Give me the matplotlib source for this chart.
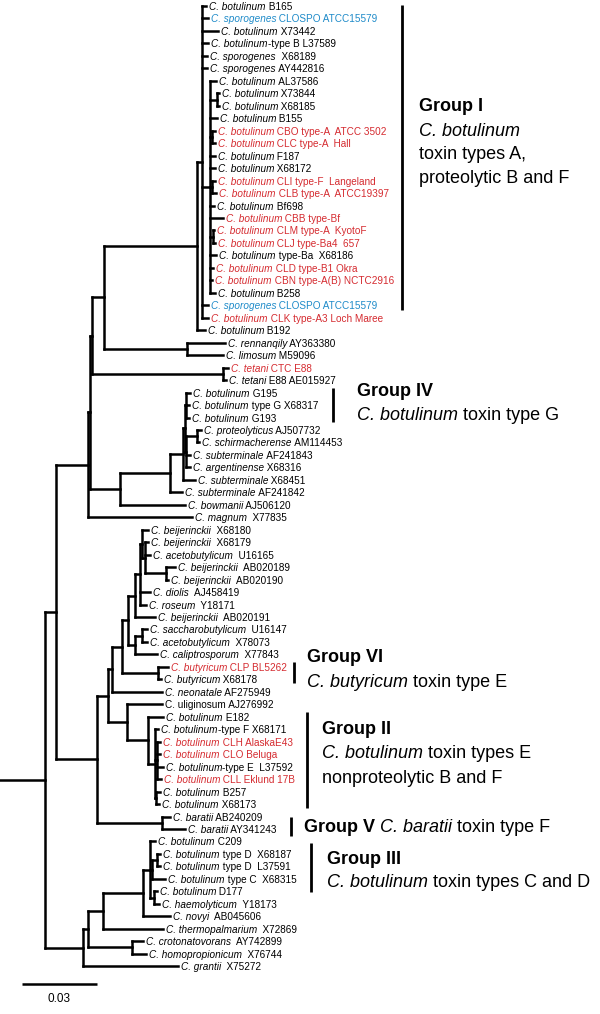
import re
import matplotlib
matplotlib.use("Agg")
import matplotlib.pyplot as plt
from matplotlib.collections import LineCollection

plt.rcParams['font.family'] = ['Liberation Sans', 'DejaVu Sans']

# --- picture geometry ---
W, H = 600, 1014
UNIT_PER_PX = 0.03 / 75          # scale bar 0.03 is 75 px long
ROW_TOP, ROW_STEP = 6.0, 12.47    # y of first leaf row, row spacing (px)
RED, BLUE = '#d52b30', '#1f8bc9'

# --- leaves (top to bottom) ---
SPECIES = [
    "C. botulinum", "C. sporogenes", "C. botulinum", "C. botulinum", "C. sporogenes",
    "C. sporogenes", "C. botulinum", "C. botulinum", "C. botulinum", "C. botulinum",
    "C. botulinum", "C. botulinum", "C. botulinum", "C. botulinum", "C. botulinum",
    "C. botulinum", "C. botulinum", "C. botulinum", "C. botulinum", "C. botulinum",
    "C. botulinum", "C. botulinum", "C. botulinum", "C. botulinum", "C. sporogenes",
    "C. botulinum", "C. botulinum", "C. rennanqily", "C. limosum", "C. tetani",
    "C. tetani", "C. botulinum", "C. botulinum", "C. botulinum", "C. proteolyticus",
    "C. schirmacherense", "C. subterminale", "C. argentinense", "C. subterminale", "C. subterminale",
    "C. bowmanii", "C. magnum", "C. beijerinckii", "C. beijerinckii", "C. acetobutylicum",
    "C. beijerinckii", "C. beijerinckii", "C. diolis", "C. roseum", "C. beijerinckii",
    "C. saccharobutylicum", "C. acetobutylicum", "C. caliptrosporum", "C. butyricum", "C. butyricum",
    "C. neonatale", "C. uliginosum", "C. botulinum", "C. botulinum", "C. botulinum",
    "C. botulinum", "C. botulinum", "C. botulinum", "C. botulinum", "C. botulinum",
    "C. baratii", "C. baratii", "C. botulinum", "C. botulinum", "C. botulinum",
    "C. botulinum", "C. botulinum", "C. haemolyticum", "C. novyi", "C. thermopalmarium",
    "C. crotonatovorans", "C. homopropionicum", "C. grantii",
]
STRAINS = [
    " B165", " CLOSPO ATCC15579", " X73442", "-type B L37589", "  X68189",
    " AY442816", " AL37586", " X73844", " X68185", " B155",
    " CBO type-A  ATCC 3502", " CLC type-A  Hall", " F187", " X68172", " CLI type-F  Langeland",
    " CLB type-A  ATCC19397", " Bf698", " CBB type-Bf", " CLM type-A  KyotoF", " CLJ type-Ba4  657",
    " type-Ba  X68186", " CLD type-B1 Okra", " CBN type-A(B) NCTC2916", " B258", " CLOSPO ATCC15579",
    " CLK type-A3 Loch Maree", " B192", " AY363380", " M59096", " CTC E88",
    " E88 AE015927", " G195", " type G X68317", " G193", " AJ507732",
    " AM114453", " AF241843", " X68316", " X68451", " AF241842",
    " AJ506120", "  X77835", "  X68180", "  X68179", "  U16165",
    "  AB020189", "  AB020190", "  AJ458419", "  Y18171", "  AB020191",
    "  U16147", "  X78073", "  X77843", " CLP BL5262", " X68178",
    " AF275949", " AJ276992", " E182", "-type F X68171", " CLH AlaskaE43",
    " CLO Beluga", "-type E  L37592", " CLL Eklund 17B", " B257", " X68173",
    " AB240209", " AY341243", " C209", " type D  X68187", " type D  L37591",
    " type C  X68315", " D177", "  Y18173", "  AB045606", "  X72869",
    "  AY742899", "  X76744", "  X75272",
]
COLOURS = ("kbkkkkkkkkrrkkrrkrrrkrrkbrkkkrkkkkkkkkkkkk"
           "kkkkkkkkkkkrkkkkkrrkrkkkkkkkkkkkkkkk")
UPRIGHT = {56}   # C. uliginosum is set in roman type

# --- tree (Newick, leaf = row index, lengths in substitutions/site) ---
GROUP_I = ("((0:0.0016,1:0.0024,2:0.0064,3:0.0024,4:0.002,5:0.002,"
           "(6:0.0024,(7:0.0008,8:0.0008):0.0028,9:0.0028,(10:0.0012,11:0.0012):0.0008,"
           "12:0.002,13:0.002,(14:0.0012,15:0.0016):0.0008,16:0.0016,17:0.0052,"
           "(18:0.0004,19:0.0008):0.0012,20:0.0024,21:0.0012,22:0.0008,23:0.002):0.0032,"
           "24:0.0024,25:0.0024):0.002,26:0.0032)")
RENN_LIMO = "(27:0.0152,28:0.0144)"
TETANI = "(29:0.002,30:0.0012)"
GROUP_IV = ("(((31:0.0016,32:0.0012,33:0.0012):0.0004,"
            "((34:0.0016,35:0.0008):0.0044,36:0.0016,37:0.0016):0.0004):0.0008,38:0.0048)")
BEIJ = ("((((42:0.0024,(43:0.0012,44:0.002,(45:0.0036,46:0.0008):0.0084):0.0012):0.0008,"
        "47:0.004,48:0.0024):0.002,49:0.008):0.0028,((50:0.002,51:0.002):0.0028,52:0.0088):0.0028)")
GROUP_VI = "(53:0.004,54:0.0012)"
GROUP_II = ("(57:0.006,(58:0.0012,(59:0.0012,60:0.0012,61:0.0024,62:0.0016):0.0008,"
            "(63:0.0016,64:0.0012):0.0004):0.0028)")
GROUP_V = "(65:0.0032,66:0.0092)"
GROUP_III = "(67:0.002,((68:0.0012,69:0.0012):0.002,70:0.0052):0.0008,(71:0.0012,72:0.002):0.0016)"
ROOT_STEM = 0.018

U1 = ("((((" + GROUP_I + ":0.0372," + RENN_LIMO + ":0.0332):0.0048," + TETANI + ":0.0524):0.0008,"
      "((" + GROUP_IV + ":0.0052,39:0.0048):0.02,40:0.026):0.012):0.0008,41:0.0416)")
U2 = ("((((" + BEIJ + ":0.0024," + GROUP_VI + ":0.0144):0.004,55:0.02):0.0016,"
      "(56:0.014," + GROUP_II + ":0.0084):0.0076):0.0044," + GROUP_V + ":0.026)")
LOWER = ("((((" + GROUP_III + ":0.0028,73:0.0108):0.016,74:0.024):0.006,"
         "(75:0.0044,76:0.0056):0.0176):0.002,77:0.038)")
TREE = "((" + U1 + ":0.0128," + U2 + ":0.0164):0.0044," + LOWER + ":0.0152);"


def parse(s):
    pos = 0

    def node():
        nonlocal pos
        kids, leaf = [], None
        if s[pos] == '(':
            pos += 1
            kids.append(node())
            while s[pos] == ',':
                pos += 1
                kids.append(node())
            pos += 1
        else:
            m = re.match(r'\d+', s[pos:])
            leaf = int(m.group())
            pos += len(m.group())
        length = 0.0
        if pos < len(s) and s[pos] == ':':
            m = re.match(r'[0-9.]+', s[pos + 1:])
            length = float(m.group())
            pos += 1 + len(m.group())
        return {'leaf': leaf, 'kids': kids, 'len': length}

    return node()


segs, tips = [], {}


def layout(n, x0):
    x = x0 + n['len']
    if n['leaf'] is not None:
        y = n['leaf']
        tips[n['leaf']] = (x, y)
    else:
        ys = [layout(k, x) for k in n['kids']]
        y = (ys[0] + ys[-1]) / 2
        segs.append([(x, ys[0]), (x, ys[-1])])
    segs.append([(x0, y), (x, y)])
    return y


root = parse(TREE)
root['len'] = ROOT_STEM
layout(root, 0.0)


def px(x, y):
    return x * UNIT_PER_PX, (y - ROW_TOP) / ROW_STEP


fig = plt.figure(figsize=(W / 100, H / 100), dpi=100)
ax = fig.add_axes([0, 0, 1, 1])
ax.set_xlim(0, W * UNIT_PER_PX)
ax.set_ylim((H - ROW_TOP) / ROW_STEP, -ROW_TOP / ROW_STEP)
ax.axis('off')

ax.add_collection(LineCollection(segs, colors='black', linewidths=1.8, capstyle='projecting'))


def mixed(x, y, parts, size, color='black'):
    """parts: list of (text, style, weight) chained left to right on one baseline"""
    prev = None
    for text, style, weight in parts:
        if prev is None:
            prev = ax.text(x, y, text, fontsize=size, style=style, weight=weight,
                           color=color, ha='left', va='center_baseline')
        else:
            prev = ax.annotate(text, xy=(1, 0), xycoords=prev, fontsize=size, style=style,
                               weight=weight, color=color, ha='left', va='bottom')


cmap = {'k': 'black', 'r': RED, 'b': BLUE}
gap = 3 * UNIT_PER_PX
for i, (x, y) in tips.items():
    st = 'normal' if i in UPRIGHT else 'italic'
    mixed(x + gap, y, [(SPECIES[i], st, 'normal'), (STRAINS[i], 'normal', 'normal')],
          7.2, cmap[COLOURS[i]])

# --- group brackets and captions ---
GS = 13
BARS = [(402, 5, 310), (333, 388, 422), (294, 662, 683), (307, 712, 808), (291, 817, 836), (311, 843, 892)]
for bx, y1, y2 in BARS:
    (x0, ya), (_, yb) = px(bx, y1), px(bx, y2)
    ax.plot([x0, x0], [ya, yb], color='black', lw=2, solid_capstyle='butt')

B, N, I = 'bold', 'normal', 'italic'
CAPTIONS = [
    (419, 105, [("Group I", N, B)]),
    (419, 130, [("C. botulinum", I, N)]),
    (419, 153, [("toxin types A,", N, N)]),
    (419, 177, [("proteolytic B and F", N, N)]),
    (357, 390, [("Group IV", N, B)]),
    (357, 414, [("C. botulinum", I, N), (" toxin type G", N, N)]),
    (307, 656, [("Group VI", N, B)]),
    (307, 681, [("C. butyricum", I, N), (" toxin type E", N, N)]),
    (322, 728, [("Group II", N, B)]),
    (322, 752, [("C. botulinum", I, N), (" toxin types E", N, N)]),
    (322, 777, [("nonproteolytic B and F", N, N)]),
    (304, 826, [("Group V", N, B), (" C. baratii", I, N), (" toxin type F", N, N)]),
    (327, 857, [("Group III", N, B)]),
    (327, 881, [("C. botulinum", I, N), (" toxin types C and D", N, N)]),
]
for cx, cy, parts in CAPTIONS:
    mixed(*px(cx, cy), parts, GS)

# --- scale bar ---
SCALE = 0.03
sx, sy = px(22, 984)
ax.plot([sx, sx + SCALE], [sy, sy], color='black', lw=1.8, solid_capstyle='butt')
ax.text(sx + SCALE / 2, px(0, 998)[1], f"{SCALE:.2f}", fontsize=8.5, ha='center', va='center_baseline')

fig.savefig("out.png", dpi=100)
